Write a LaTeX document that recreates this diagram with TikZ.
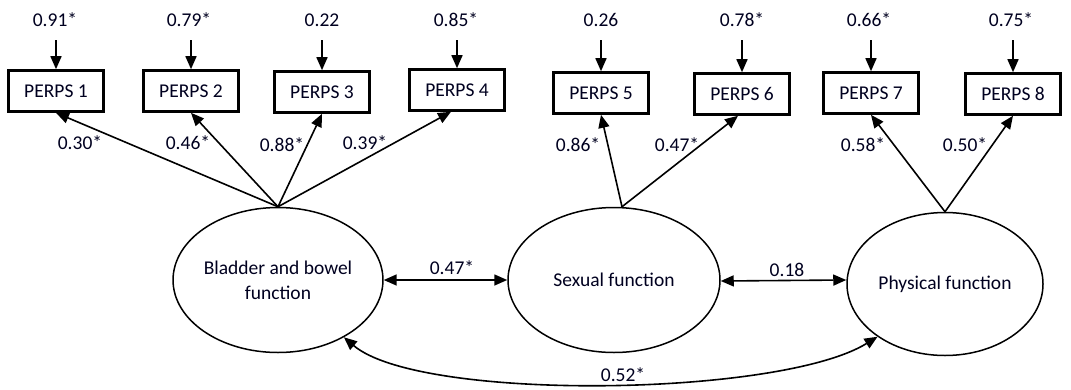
\documentclass[tikz,border=0pt]{standalone}
\usepackage{fontspec}
\setmainfont{Carlito}
\usetikzlibrary{shapes.geometric,arrows.meta}
\begin{document}
\begin{tikzpicture}[x=1pt,y=-1pt,
  every node/.style={font=\fontsize{19.5}{24}\selectfont, text=black!88!blue},
  ind/.style={draw=black, line width=2.6pt, minimum width=95pt, minimum height=41pt, inner sep=0pt},
  lat/.style={draw=black, line width=1.5pt, ellipse, inner sep=0pt},
  arr/.style={line width=1.6pt, -{Triangle[length=13pt,width=11pt]}},
  dbl/.style={line width=1.6pt, {Triangle[length=13pt,width=11pt]}-{Triangle[length=13pt,width=11pt]}},
  lbl/.style={inner sep=0pt}
]
\useasboundingbox (0,0) rectangle (1071,389);

% indicator boxes
\node[ind] (p1) at (56,91) {PERPS 1};
\node[ind] (p2) at (191,91) {PERPS 2};
\node[ind] (p3) at (322,92) {PERPS 3};
\node[ind] (p4) at (457,90) {PERPS 4};
\node[ind] (p5) at (601,93) {PERPS 5};
\node[ind] (p6) at (742,94) {PERPS 6};
\node[ind] (p7) at (871,93) {PERPS 7};
\node[ind] (p8) at (1013,94) {PERPS 8};

% error terms
\node[lbl] (e1) at (55,20) {0.91*};
\node[lbl] (e2) at (189,20) {0.79*};
\node[lbl] (e3) at (322,20) {0.22};
\node[lbl] (e4) at (456,20) {0.85*};
\node[lbl] (e5) at (601,20) {0.26};
\node[lbl] (e6) at (742,20) {0.78*};
\node[lbl] (e7) at (869,20) {0.66*};
\node[lbl] (e8) at (1011,20) {0.75*};

\coordinate (t1) at (56,40);
\coordinate (t2) at (191,40);
\coordinate (t3) at (322,40);
\coordinate (t4) at (457,40);
\coordinate (t5) at (601,40);
\coordinate (t6) at (742,40);
\coordinate (t7) at (871,40);
\coordinate (t8) at (1013,40);
\foreach \i in {1,...,8} { \draw[arr] (t\i) -- (p\i.north); }

% latent variables
\node[lat, minimum width=196pt, minimum height=145pt, align=center] (bb) at (278,280) {Bladder and bowel\\[1pt]function};
\node[lat, minimum width=212pt, minimum height=145pt] (sf) at (614,280) {\raisebox{-2pt}{Sexual function}};
\node[lat, minimum width=196pt, minimum height=143pt] (pf) at (945,284) {\raisebox{-2pt}{Physical function}};

% loadings
\draw[arr] (bb.north) -- (p1.south);
\draw[arr] (bb.north) -- (p2.south);
\draw[arr] (bb.north) -- (p3.south);
\draw[arr] (bb.north) -- ([xshift=-6pt]p4.south);
\draw[arr] ([xshift=8pt]sf.north) -- (p5.south);
\draw[arr] ([xshift=8pt]sf.north) -- ([xshift=-4pt]p6.south);
\draw[arr] (pf.north) -- (p7.south);
\draw[arr] (pf.north) -- (p8.south);

\node[lbl] (l1) at (80,143) {0.30*};
\node[lbl] (l2) at (188,143) {0.46*};
\node[lbl] (l3) at (282,145) {0.88*};
\node[lbl] (l4) at (365,143) {0.39*};
\node[lbl] (l5) at (578,145) {0.86*};
\node[lbl] (l6) at (677,145) {0.47*};
\node[lbl] (l7) at (863,145) {0.58*};
\node[lbl] (l8) at (965,145) {0.50*};

% correlations
\draw[dbl] (bb.east) -- (sf.west);
\node[lbl] (c1) at (452,268) {0.47*};
\draw[dbl] ([yshift=-1pt]sf.east) -- (sf.east -| pf.west);
\node[lbl] (c2) at (787,270) {0.18};
\draw[dbl] (bb.-41) .. controls (420,402) and (780,397) .. (pf.-142);
\node[lbl] (c3) at (623,375) {0.52*};
\end{tikzpicture}
\end{document}
